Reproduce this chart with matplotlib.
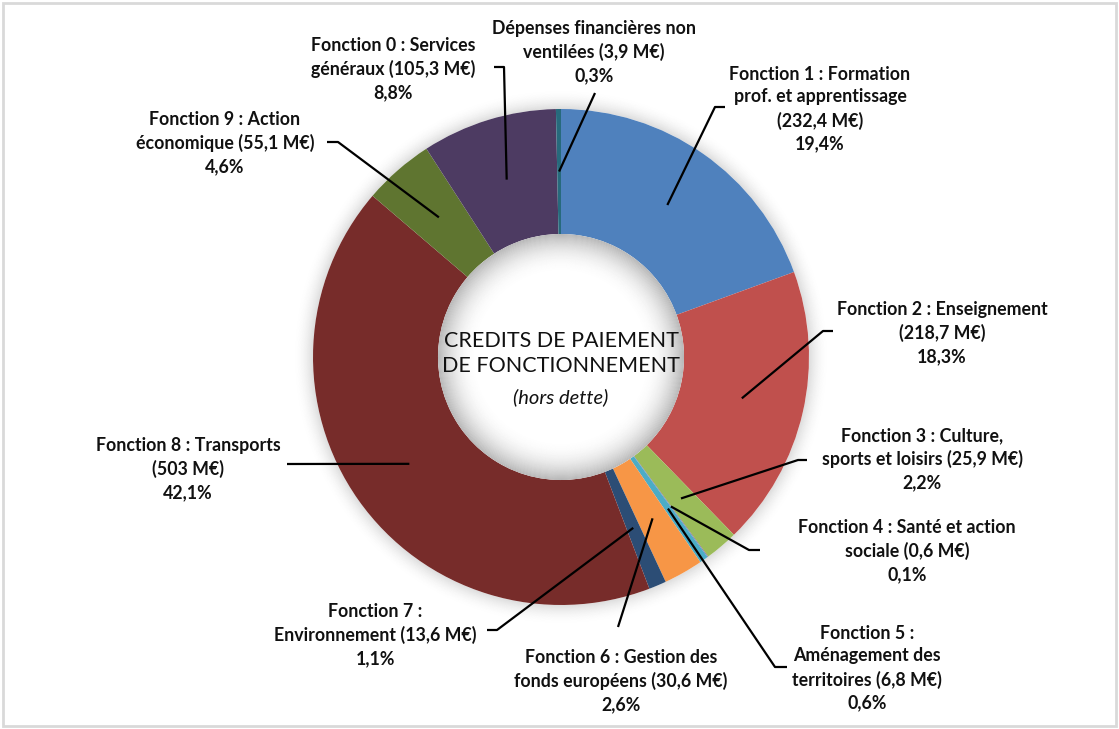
import numpy as np
import matplotlib.pyplot as plt
from matplotlib.patches import Circle, Wedge, Rectangle

W, H = 1119, 729

# montants en M€, dans l'ordre des parts (sens horaire depuis midi)
noms = [
    'Fonction 1 : Formation\nprof. et apprentissage\n',
    'Fonction 2 : Enseignement\n',
    'Fonction 3 : Culture,\nsports et loisirs ',
    'Fonction 4 : Santé et action\nsociale ',
    'Fonction 5 :\nAménagement des\nterritoires ',
    'Fonction 6 : Gestion des\nfonds européens ',
    'Fonction 7 :\nEnvironnement ',
    'Fonction 8 : Transports\n',
    'Fonction 9 : Action\néconomique ',
    'Fonction 0 : Services\ngénéraux ',
    'Dépenses financières non\nventilées ',
]
montants = [232.4, 218.7, 25.9, 0.6, 6.8, 30.6, 13.6, 503, 55.1, 105.3, 3.9]
couleurs = ['#4f81bd', '#c0504d', '#9bbb59', '#8064a2', '#4bacc6', '#f79646',
            '#2c4d75', '#772c2a', '#5f7530', '#4d3b62', '#276a7c']

# placement des étiquettes (x, y du centre du bloc) et coudes des traits de rappel
pos_etiq = [(820, 109), (942, 333), (922, 459), (907, 551), (867, 668), (621, 681),
            (375, 635), (188, 469), (225, 143), (393, 69), (594, 52)]
coudes = [
    [(715, 107), (725, 107)],
    [(823, 331), (833, 331)],
    [(798, 460), (807, 460)],
    [(749, 550), (760, 550)],
    [(775, 667), (787, 667)],
    [(618, 627)],
    [(497, 630), (487, 630)],
    [(287, 464)],
    [(338, 142), (327, 142)],
    [(504, 67), (494, 67)],
    [(595, 93)],
]

cx, cy = 561, H - 357
R, r_in = 248, 123

fig = plt.figure(figsize=(W / 100, H / 100), dpi=100)
ax = fig.add_axes([0, 0, 1, 1])

# ombre portée autour de l'anneau
for k in range(20):
    ax.add_patch(Wedge((cx, cy), R + k + 1, 0, 360, width=1, facecolor='black',
                       edgecolor='none', alpha=0.13 * (1 - k / 20) ** 2, zorder=1))

wedges, _ = ax.pie(montants, colors=couleurs, startangle=90, counterclock=False,
                   center=(cx, cy), radius=R,
                   wedgeprops=dict(width=R - r_in, linewidth=0, zorder=2))

# trou central avec ombre intérieure
ax.add_patch(Circle((cx, cy), r_in, facecolor='white', edgecolor='none', zorder=3))
for k in range(40):
    ax.add_patch(Wedge((cx, cy), r_in - k, 0, 360, width=1, facecolor='black',
                       edgecolor='none', alpha=0.28 * (1 - k / 40) ** 2.2, zorder=4))

ax.text(cx, H - 353.5, 'CREDITS DE PAIEMENT\nDE FONCTIONNEMENT', ha='center', va='center',
        fontsize=15.5, family='Lato', color='#111111', linespacing=1.35, zorder=5)
ax.text(cx, H - 397, '(hors dette)', ha='center', va='center', fontsize=14.5,
        family='Lato', style='italic', color='#111111', zorder=5)

total = sum(montants)
r_mid = (R + r_in) / 2
for w, nom, v, (tx, ty), pts in zip(wedges, noms, montants, pos_etiq, coudes):
    pct = f'{100 * v / total:.1f}'.replace('.', ',')
    txt = nom + '(' + f'{v:g}'.replace('.', ',') + ' M€)\n' + pct + '%'
    ax.text(tx, H - ty, txt, ha='center', va='center', fontsize=12.8, family='Lato',
            weight='bold', color='#111111', linespacing=1.4, zorder=6)
    a = np.radians((w.theta1 + w.theta2) / 2)
    xs = [cx + r_mid * np.cos(a)] + [p[0] for p in pts]
    ys = [cy + r_mid * np.sin(a)] + [H - p[1] for p in pts]
    ax.plot(xs, ys, color='black', lw=1.6, solid_capstyle='butt', zorder=6)

ax.add_patch(Rectangle((3, 3), W - 6, H - 6, fill=False, edgecolor='#d9d9d9', lw=2))

ax.set_xlim(0, W)
ax.set_ylim(0, H)
ax.set_aspect('auto')
ax.axis('off')

fig.savefig('out.png', dpi=100, facecolor='white')
